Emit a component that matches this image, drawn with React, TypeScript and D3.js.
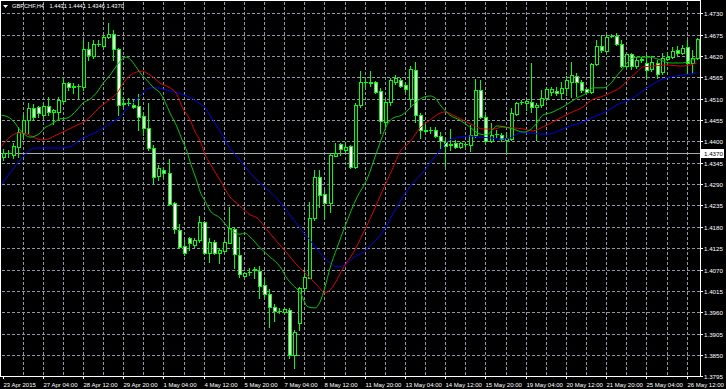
import React from "react";
import * as d3 from "d3";

const WIDTH = 726;
const HEIGHT = 389;

const symbolName = "GBPCHF,H4";
const lastBar = ["1.4431", "1.4441", "1.4346", "1.4370"];
const currentPrice = 1.437;

const xLabels = [
  "23 Apr 2015", "27 Apr 04:00", "28 Apr 12:00", "29 Apr 20:00", "1 May 04:00",
  "4 May 12:00", "5 May 20:00", "7 May 04:00", "8 May 12:00", "11 May 20:00",
  "13 May 04:00", "14 May 12:00", "15 May 20:00", "19 May 04:00", "20 May 12:00",
  "21 May 20:00", "25 May 04:00", "26 May 12:00",
];
const barsPerLabel = 8;
const barsPerGrid = 4;

const yTicks = [
  1.473, 1.4675, 1.462, 1.4565, 1.451, 1.4455, 1.44, 1.4345, 1.429, 1.4235,
  1.418, 1.4125, 1.407, 1.4015, 1.396, 1.3905, 1.385, 1.3795,
];

const opens = [
  1.4360, 1.4370, 1.4365, 1.4386, 1.4422, 1.4455, 1.4486, 1.4489, 1.4468, 1.4491,
  1.4476, 1.4476, 1.4504, 1.4550, 1.4543, 1.4543, 1.4540, 1.4638, 1.4620, 1.4651,
  1.4646, 1.4669, 1.4677, 1.4638, 1.4496, 1.4499, 1.4494, 1.4491, 1.4465, 1.4435,
  1.4383, 1.4311, 1.4326, 1.4319, 1.4241, 1.4172, 1.4131, 1.4151, 1.4133, 1.4146,
  1.4192, 1.4113, 1.4141, 1.4113, 1.4118, 1.4138, 1.4174, 1.4108, 1.4053, 1.4064,
  1.4069, 1.4066, 1.4030, 1.4007, 1.3974, 1.3963, 1.3961, 1.3966, 1.3850, 1.3932,
  1.4023, 1.4048, 1.4203, 1.4308, 1.4264, 1.4241, 1.4362, 1.4393, 1.4378, 1.4388,
  1.4334, 1.4494, 1.4553, 1.4553, 1.4553, 1.4530, 1.4450, 1.4502, 1.4553, 1.4558,
  1.4545, 1.4509, 1.4584, 1.4468, 1.4429, 1.4429, 1.4429, 1.4414, 1.4399, 1.4393,
  1.4396, 1.4386, 1.4393, 1.4391, 1.4417, 1.4532, 1.4463, 1.4401, 1.4419, 1.4417,
  1.4404, 1.4406, 1.4471, 1.4502, 1.4499, 1.4502, 1.4489, 1.4494, 1.4512, 1.4527,
  1.4530, 1.4525, 1.4538, 1.4553, 1.4569, 1.4553, 1.4535, 1.4527, 1.4599, 1.4646,
  1.4633, 1.4671, 1.4671, 1.4651, 1.4594, 1.4625, 1.4594, 1.4610, 1.4602, 1.4587,
  1.4602, 1.4579, 1.4612, 1.4617, 1.4635, 1.4628, 1.4643, 1.4602, 1.4615,
];
const highs = [
  1.4381, 1.4378, 1.4396, 1.4437, 1.4468, 1.4499, 1.4496, 1.4491, 1.4499, 1.4514,
  1.4484, 1.4514, 1.4563, 1.4553, 1.4550, 1.4548, 1.4661, 1.4656, 1.4661, 1.4661,
  1.4671, 1.4705, 1.4687, 1.4641, 1.4514, 1.4512, 1.4507, 1.4522, 1.4473, 1.4499,
  1.4391, 1.4339, 1.4334, 1.4355, 1.4244, 1.4187, 1.4146, 1.4154, 1.4151, 1.4208,
  1.4195, 1.4151, 1.4146, 1.4126, 1.4146, 1.4231, 1.4180, 1.4154, 1.4064, 1.4074,
  1.4077, 1.4079, 1.4048, 1.4020, 1.3981, 1.3971, 1.3971, 1.3971, 1.3914, 1.4025,
  1.4069, 1.4244, 1.4326, 1.4326, 1.4275, 1.4370, 1.4396, 1.4396, 1.4399, 1.4391,
  1.4499, 1.4581, 1.4563, 1.4581, 1.4556, 1.4538, 1.4507, 1.4563, 1.4571, 1.4563,
  1.4550, 1.4594, 1.4604, 1.4473, 1.4447, 1.4437, 1.4437, 1.4424, 1.4409, 1.4432,
  1.4404, 1.4399, 1.4399, 1.4442, 1.4561, 1.4558, 1.4468, 1.4447, 1.4429, 1.4422,
  1.4422, 1.4486, 1.4502, 1.4507, 1.4507, 1.4602, 1.4499, 1.4532, 1.4540, 1.4540,
  1.4540, 1.4553, 1.4569, 1.4604, 1.4576, 1.4558, 1.4538, 1.4602, 1.4661, 1.4674,
  1.4674, 1.4677, 1.4679, 1.4661, 1.4630, 1.4628, 1.4617, 1.4617, 1.4623, 1.4620,
  1.4610, 1.4628, 1.4630, 1.4643, 1.4646, 1.4648, 1.4661, 1.4635, 1.4666,
];
const lows = [
  1.4352, 1.4360, 1.4357, 1.4360, 1.4411, 1.4422, 1.4455, 1.4463, 1.4460, 1.4468,
  1.4445, 1.4455, 1.4499, 1.4532, 1.4525, 1.4512, 1.4532, 1.4610, 1.4615, 1.4646,
  1.4643, 1.4666, 1.4610, 1.4468, 1.4491, 1.4494, 1.4486, 1.4429, 1.4417, 1.4378,
  1.4293, 1.4301, 1.4308, 1.4236, 1.4164, 1.4126, 1.4108, 1.4120, 1.4128, 1.4141,
  1.4110, 1.4089, 1.4110, 1.4087, 1.4115, 1.4138, 1.4074, 1.4051, 1.4051, 1.4056,
  1.4048, 1.3997, 1.3999, 1.3922, 1.3937, 1.3958, 1.3958, 1.3842, 1.3816, 1.3914,
  1.4017, 1.4048, 1.4198, 1.4231, 1.4203, 1.4218, 1.4362, 1.4365, 1.4375, 1.4332,
  1.4332, 1.4489, 1.4540, 1.4543, 1.4525, 1.4422, 1.4437, 1.4494, 1.4548, 1.4540,
  1.4527, 1.4489, 1.4450, 1.4409, 1.4424, 1.4422, 1.4411, 1.4383, 1.4337, 1.4378,
  1.4383, 1.4383, 1.4388, 1.4375, 1.4411, 1.4460, 1.4396, 1.4399, 1.4411, 1.4401,
  1.4370, 1.4404, 1.4468, 1.4496, 1.4481, 1.4476, 1.4404, 1.4489, 1.4507, 1.4520,
  1.4520, 1.4509, 1.4520, 1.4514, 1.4517, 1.4527, 1.4525, 1.4525, 1.4597, 1.4630,
  1.4630, 1.4669, 1.4648, 1.4592, 1.4592, 1.4587, 1.4589, 1.4604, 1.4563, 1.4581,
  1.4563, 1.4574, 1.4610, 1.4615, 1.4623, 1.4625, 1.4576, 1.4576, 1.4612,
];
const closes = [
  1.4370, 1.4369, 1.4388, 1.4424, 1.4455, 1.4486, 1.4463, 1.4473, 1.4491, 1.4476,
  1.4481, 1.4507, 1.4550, 1.4540, 1.4541, 1.4542, 1.4638, 1.4623, 1.4651, 1.4650,
  1.4669, 1.4677, 1.4638, 1.4494, 1.4499, 1.4498, 1.4489, 1.4463, 1.4435, 1.4383,
  1.4308, 1.4332, 1.4319, 1.4239, 1.4174, 1.4128, 1.4113, 1.4138, 1.4146, 1.4192,
  1.4113, 1.4141, 1.4113, 1.4120, 1.4141, 1.4177, 1.4110, 1.4059, 1.4061, 1.4063,
  1.4072, 1.4028, 1.4007, 1.3974, 1.3963, 1.3962, 1.3968, 1.3850, 1.3909, 1.4023,
  1.4051, 1.4203, 1.4308, 1.4262, 1.4241, 1.4365, 1.4370, 1.4381, 1.4386, 1.4334,
  1.4494, 1.4553, 1.4552, 1.4551, 1.4527, 1.4453, 1.4502, 1.4558, 1.4563, 1.4543,
  1.4535, 1.4587, 1.4468, 1.4429, 1.4428, 1.4430, 1.4414, 1.4401, 1.4388, 1.4392,
  1.4386, 1.4396, 1.4394, 1.4417, 1.4532, 1.4463, 1.4401, 1.4417, 1.4418, 1.4406,
  1.4409, 1.4473, 1.4499, 1.4501, 1.4504, 1.4489, 1.4494, 1.4512, 1.4535, 1.4535,
  1.4525, 1.4538, 1.4558, 1.4571, 1.4553, 1.4532, 1.4527, 1.4599, 1.4646, 1.4635,
  1.4669, 1.4671, 1.4651, 1.4594, 1.4625, 1.4594, 1.4610, 1.4612, 1.4584, 1.4604,
  1.4574, 1.4615, 1.4617, 1.4633, 1.4628, 1.4641, 1.4602, 1.4615, 1.4664,
];

// moving averages: [bar position, price]
const maFast: [number, number][] = [
  [-0.5, 1.4468], [1.1, 1.4463], [2.5, 1.4447], [3.5, 1.4429], [4.5, 1.4417], [5.5, 1.4411],
  [6.5, 1.4414], [7.5, 1.4422], [8.4, 1.4435], [9.4, 1.4442], [10.4, 1.445], [11.4, 1.4458],
  [12.8, 1.446], [13.8, 1.4468], [14.8, 1.4481], [16.0, 1.4499], [17.4, 1.4509], [18.8, 1.4527],
  [20.0, 1.455], [21.4, 1.4571], [22.8, 1.4597], [23.8, 1.4612], [24.7, 1.4617], [25.7, 1.4607],
  [26.7, 1.4589], [27.7, 1.4571], [28.7, 1.4558], [29.9, 1.454], [31.3, 1.4525], [32.3, 1.4502],
  [33.3, 1.4473], [34.7, 1.4437], [35.7, 1.4404], [36.7, 1.4373], [37.3, 1.4347], [38.7, 1.4295],
  [39.3, 1.427], [40.3, 1.4246], [41.2, 1.4223], [43.2, 1.4203], [45.2, 1.4174], [47.2, 1.4161],
  [48.2, 1.4164], [49.2, 1.4154], [51.2, 1.4126], [53.2, 1.4102], [55.2, 1.4077], [56.5, 1.4048],
  [57.7, 1.403], [59.1, 1.4012], [60.7, 1.3974], [62.1, 1.3971], [63.1, 1.3986], [64.1, 1.4025],
  [65.1, 1.4074], [66.5, 1.4126], [68.1, 1.4182], [70.5, 1.4257], [72.4, 1.4301], [74.4, 1.4373],
  [75.4, 1.4409], [76.4, 1.4442], [77.6, 1.446], [79.4, 1.4468], [80.6, 1.4481], [82.0, 1.4499],
  [83.4, 1.4512], [85.0, 1.4517], [86.0, 1.4512], [87.0, 1.4494], [88.9, 1.4468], [90.9, 1.4455],
  [92.9, 1.4437], [94.9, 1.4419], [96.3, 1.4417], [97.3, 1.4429], [98.3, 1.444], [99.9, 1.4437],
  [101.5, 1.4432], [103.5, 1.4424], [104.8, 1.4429], [106.2, 1.4447], [107.4, 1.4468],
  [108.8, 1.4473], [111.4, 1.4489], [114.2, 1.4512], [116.2, 1.4525], [117.4, 1.4538],
  [119.4, 1.4538], [120.8, 1.4548], [122.1, 1.4569], [123.1, 1.4584], [124.7, 1.461],
  [126.1, 1.4617], [128.7, 1.4617], [130.7, 1.461], [132.7, 1.4602], [134.7, 1.4602],
  [136.7, 1.4607], [138.0, 1.4617],
];
const maMid: [number, number][] = [
  [-0.5, 1.4383], [0.9, 1.4404], [2.1, 1.4417], [3.5, 1.4422], [4.9, 1.4419], [6.1, 1.4411],
  [7.9, 1.4404], [9.0, 1.4406], [10.8, 1.4417], [12.8, 1.4429], [14.8, 1.4442], [15.8, 1.4447],
  [17.4, 1.4463], [19.4, 1.4489], [21.4, 1.4509], [22.8, 1.4525], [24.0, 1.455], [25.3, 1.4569],
  [26.7, 1.4579], [27.7, 1.4581], [28.7, 1.4576], [29.9, 1.4566], [31.3, 1.455], [33.3, 1.4538],
  [34.7, 1.452], [35.7, 1.4489], [37.3, 1.4455], [38.3, 1.4424], [39.3, 1.4401], [40.3, 1.4365],
  [41.2, 1.4344], [43.2, 1.4301], [45.2, 1.4257], [47.2, 1.4234], [49.2, 1.4211], [50.6, 1.4203],
  [52.6, 1.4172], [54.6, 1.4141], [56.5, 1.4113], [58.5, 1.4082], [60.5, 1.4056], [62.5, 1.403],
  [64.1, 1.401], [65.1, 1.4017], [66.1, 1.4035], [67.7, 1.4074], [69.7, 1.4113], [71.7, 1.4164],
  [73.6, 1.4216], [75.6, 1.4275], [77.6, 1.4332], [79.0, 1.4373], [81.0, 1.4399], [83.0, 1.4435],
  [85.0, 1.4455], [87.0, 1.4473], [88.0, 1.4476], [89.5, 1.4468], [91.5, 1.4455], [93.5, 1.4442],
  [95.5, 1.4432], [97.5, 1.4432], [99.5, 1.4437], [101.5, 1.4435], [103.5, 1.4432],
  [105.4, 1.4427], [107.4, 1.4437], [109.4, 1.445], [110.8, 1.446], [112.8, 1.4473],
  [115.4, 1.4489], [117.4, 1.4509], [118.8, 1.4514], [120.8, 1.4525], [122.7, 1.4538],
  [124.7, 1.4563], [126.1, 1.4579], [127.3, 1.4592], [129.3, 1.4594], [132.1, 1.4597],
  [134.7, 1.4594], [136.7, 1.4597], [138.0, 1.4602],
];
const maSlow: [number, number][] = [
  [-0.5, 1.4283], [1.5, 1.4319], [3.5, 1.4352], [5.5, 1.4378], [6.9, 1.4383], [8.8, 1.4383],
  [11.4, 1.4383], [13.4, 1.4386], [15.4, 1.4404], [17.4, 1.4417], [19.4, 1.4429], [21.4, 1.4447],
  [23.4, 1.4463], [25.0, 1.4489], [26.7, 1.4507], [27.9, 1.4525], [29.3, 1.4538], [30.7, 1.4538],
  [32.7, 1.4532], [34.7, 1.4525], [36.7, 1.4517], [38.7, 1.4502], [40.3, 1.4486], [41.6, 1.446],
  [43.2, 1.4427], [45.2, 1.4383], [47.2, 1.4352], [49.2, 1.4319], [51.2, 1.4293], [53.2, 1.427],
  [55.2, 1.4244], [57.1, 1.4211], [59.1, 1.4177], [61.1, 1.4146], [63.1, 1.4113], [65.1, 1.4087],
  [66.5, 1.4077], [68.1, 1.4082], [69.7, 1.41], [71.7, 1.4115], [73.6, 1.4138], [75.6, 1.4167],
  [77.6, 1.4213], [79.6, 1.4257], [81.6, 1.4293], [83.6, 1.4321], [85.0, 1.4344], [87.0, 1.4378],
  [88.9, 1.4404], [90.9, 1.4411], [92.9, 1.4414], [94.9, 1.4411], [96.9, 1.4409], [98.9, 1.4406],
  [100.9, 1.4409], [102.9, 1.4422], [104.8, 1.4422], [106.8, 1.4419], [108.8, 1.4419],
  [110.8, 1.4429], [112.8, 1.444], [114.8, 1.4447], [117.4, 1.4463], [120.2, 1.4478],
  [122.1, 1.4494], [124.7, 1.4507], [126.7, 1.4525], [128.7, 1.4543], [130.7, 1.4558],
  [132.7, 1.4566], [135.3, 1.4571], [138.0, 1.4576],
];

const LIME = "#00ff00";
const FONT = "'Liberation Sans', Arial, sans-serif";

export default function App() {
  const plotLeft = 1;
  const plotRight = 700;
  const plotTop = 1;
  const plotBottom = 376;

  const x = d3.scaleLinear().domain([0, 138]).range([2.5, 2.5 + 5.031 * 138]);
  const y = d3.scaleLinear().domain([1.3795, 1.473]).range([376.3, 13.3]);

  const maLine = d3
    .line<[number, number]>()
    .x((d) => x(d[0]))
    .y((d) => y(d[1]))
    .curve(d3.curveMonotoneX);

  const gridBars = d3.range(barsPerGrid, opens.length, barsPerGrid);
  const labelBars = xLabels.map((_, k) => k * barsPerLabel);
  const priceY = Math.round(y(currentPrice)) + 0.5;

  return (
    <svg
      width={WIDTH}
      height={HEIGHT}
      style={{ position: "absolute", left: 0, top: 0, display: "block", background: "#000" }}
    >
      <defs>
        <clipPath id="plot">
          <rect x={plotLeft + 0.5} y={plotTop + 0.5} width={plotRight - plotLeft - 0.5} height={plotBottom - plotTop - 0.5} />
        </clipPath>
      </defs>
      <rect x={0} y={0} width={WIDTH} height={HEIGHT} fill="#000" />

      {/* grid */}
      <g stroke="#8d98a4" strokeWidth={1} strokeDasharray="3 2">
        {yTicks.slice(0, -1).map((t) => {
          const yy = Math.round(y(t)) + 0.5;
          return <line key={"h" + t} x1={plotLeft + 1} x2={plotRight} y1={yy} y2={yy} />;
        })}
        {gridBars.map((b) => {
          const xx = Math.round(x(b)) + 0.5;
          return <line key={"v" + b} x1={xx} x2={xx} y1={plotTop + 1} y2={plotBottom} />;
        })}
      </g>

      {/* current price line */}
      <line x1={plotLeft} x2={plotRight} y1={priceY} y2={priceY} stroke="#a3acb5" strokeWidth={1} />

      {/* candles */}
      <g clipPath="url(#plot)">
        {opens.map((o, i) => {
          const c = closes[i];
          const cx = Math.round(x(i));
          const yH = Math.round(y(highs[i]));
          const yL = Math.round(y(lows[i]));
          const yTop = Math.round(y(Math.max(o, c)));
          const yBot = Math.round(y(Math.min(o, c)));
          const bull = c >= o;
          return (
            <g key={i}>
              <line x1={cx + 0.5} x2={cx + 0.5} y1={yH} y2={yL + 1} stroke={LIME} strokeWidth={1} />
              {yBot - yTop < 1 ? (
                <line x1={cx - 1} x2={cx + 3} y1={yTop + 0.5} y2={yTop + 0.5} stroke={LIME} strokeWidth={1} />
              ) : (
                <rect
                  x={cx - 0.5}
                  y={yTop + 0.5}
                  width={3}
                  height={yBot - yTop}
                  fill={bull ? "#000" : "#fff"}
                  stroke={LIME}
                  strokeWidth={1}
                />
              )}
            </g>
          );
        })}

        {/* moving averages */}
        <path d={maLine(maSlow) || ""} fill="none" stroke="#0000f0" strokeWidth={1} />
        <path d={maLine(maMid) || ""} fill="none" stroke="#e00000" strokeWidth={1} />
        <path d={maLine(maFast) || ""} fill="none" stroke="#00c800" strokeWidth={1} />
      </g>

      {/* frame */}
      <rect
        x={plotLeft - 0.5}
        y={plotTop - 0.5}
        width={plotRight - plotLeft + 1}
        height={plotBottom - plotTop + 1}
        fill="none"
        stroke="#ffffff"
        strokeWidth={1}
      />

      {/* y axis */}
      <g fill="#ffffff" fontFamily={FONT} fontSize={6.2}>
        {yTicks.map((t) => {
          const yy = Math.round(y(t)) + 0.5;
          return (
            <g key={"yl" + t}>
              <line x1={plotRight} x2={plotRight + 3} y1={yy} y2={yy} stroke="#ffffff" />
              <text x={704} y={yy + 2.2}>
                {t.toFixed(4)}
              </text>
            </g>
          );
        })}
      </g>

      {/* current price label */}
      <rect x={701} y={priceY - 4.5} width={23} height={9} fill="#ffffff" />
      <text x={704} y={priceY + 2.2} fill="#000" fontFamily={FONT} fontSize={6.2}>
        {currentPrice.toFixed(4)}
      </text>

      {/* x axis */}
      <g fill="#ffffff" fontFamily={FONT} fontSize={6}>
        {labelBars.map((b, k) => {
          const xx = Math.round(x(b)) + 0.5;
          return (
            <g key={"xl" + b}>
              <line x1={xx} x2={xx} y1={plotBottom} y2={plotBottom + 3} stroke="#ffffff" />
              <text x={xx} y={386.5}>
                {xLabels[k]}
              </text>
            </g>
          );
        })}
      </g>

      {/* header */}
      <path d="M3,5 L8,5 L5.5,8 Z" fill="#ffffff" />
      <text x={12} y={8.3} fill="#ffffff" fontFamily={FONT} fontSize={5.7}>
        {symbolName}
      </text>
      <text x={49.5} y={8.3} fill="#ffffff" fontFamily={FONT} fontSize={5.7}>
        {lastBar.join(" ")}
      </text>
    </svg>
  );
}
